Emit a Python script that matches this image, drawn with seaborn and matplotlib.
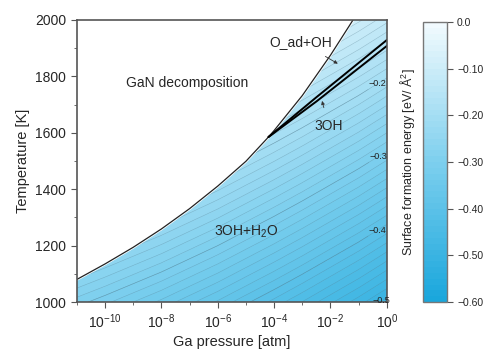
import matplotlib
matplotlib.use("Agg")
import matplotlib.pyplot as plt
import seaborn as sns
import numpy as np
from matplotlib.colors import LinearSegmentedColormap
from matplotlib.ticker import FixedLocator, FixedFormatter, MultipleLocator

# --- data ---
# log10 of Ga pressure [atm] grid and surface energy at T=1000 K / 2000 K
log_p_grid = [-11, -10, -9, -8, -7, -6, -5, -4, -3, -2, -1, 0]
t_grid = [1000, 2000]
energy_t1000 = [-0.294, -0.309, -0.325, -0.341, -0.359, -0.377,
                -0.397, -0.417, -0.438, -0.460, -0.482, -0.506]
energy_t2000 = [0.091, 0.076, 0.060, 0.044, 0.026, 0.008,
                -0.012, -0.032, -0.053, -0.075, -0.097, -0.121]

# GaN decomposition boundary
decomp_log_p = [-11, -10, -9, -8, -7, -6, -5, -4.2, -4, -3, -2, -1.2]
decomp_t = [1080, 1135, 1194, 1259, 1331, 1411, 1499, 1585, 1608, 1732, 1875, 2000]

# O_ad+OH / 3OH boundaries
upper_log_p = [-4.2, -2.5, 0]
upper_t = [1585, 1726, 1929]
lower_log_p = [-4.2, -2.5, 0]
lower_t = [1585, 1711, 1908]

label_levels = [-0.5, -0.4, -0.3, -0.2]
cbar_ticks = [0.0, -0.1, -0.2, -0.3, -0.4, -0.5, -0.6]
cbar_labels = ["0.0", "\u22120.10", "\u22120.20", "\u22120.30", "\u22120.40", "\u22120.50", "\u22120.60"]
x_major = [-10, -8, -6, -4, -2, 0]
x_labels = ["$10^{-10}$", "$10^{-8}$", "$10^{-6}$", "$10^{-4}$", "$10^{-2}$", "$10^{0}$"]

sns.set_style("ticks")
plt.rcParams["font.family"] = ["Liberation Sans", "DejaVu Sans"]
plt.rcParams["mathtext.fontset"] = "custom"
plt.rcParams["mathtext.rm"] = "Liberation Sans"
plt.rcParams["mathtext.it"] = "Liberation Sans:italic"

cmap = LinearSegmentedColormap.from_list("sfe", ["#18a6dc", "#7dcfee", "#f3fbfe"])
levels = np.linspace(-0.6, 0.0, 49)

fig = plt.figure(figsize=(4.86, 3.5), dpi=100)
ax = fig.add_axes([0.158, 0.137, 0.638, 0.806])
cax = fig.add_axes([0.870, 0.137, 0.049, 0.800])

X, Y = np.meshgrid(log_p_grid, t_grid)
Z = np.array([energy_t1000, energy_t2000])
cf = ax.contourf(X, Y, Z, levels=levels, cmap=cmap, vmin=-0.6, vmax=0.0)
ax.contour(X, Y, Z, levels=levels, colors="#4d7a8e", linewidths=0.4, alpha=0.4,
           linestyles="solid")

# labelled contours at the right edge
cl = ax.contour(X, Y, Z, levels=label_levels, colors="#4d7a8e", linewidths=0.4, alpha=0.4,
                linestyles="solid")
txts = ax.clabel(cl, inline=True, inline_spacing=2, fontsize=6.5, colors="#222222",
                 fmt=lambda v: f"{v:.1f}".replace("-", "\u2212"),
                 manual=[(-0.25, 1016), (-0.45, 1273), (-0.45, 1539), (-0.45, 1794)])
for t in txts:
    t.set_rotation(0)
    t.set_alpha(1)
    t.set_clip_on(False)
    t.set_zorder(6)

# white decomposition region
ax.fill_between(decomp_log_p, decomp_t, 2000, color="white", zorder=2)
ax.plot(decomp_log_p, decomp_t, color="#222222", lw=0.9, zorder=3)
ax.plot(upper_log_p, upper_t, color="black", lw=1.4, zorder=3)
ax.plot(lower_log_p, lower_t, color="black", lw=1.4, zorder=3)

ax.set_xlim(-11, 0)
ax.set_ylim(1000, 2000)
ax.xaxis.set_major_locator(FixedLocator(x_major))
ax.xaxis.set_major_formatter(FixedFormatter(x_labels))
ax.xaxis.set_minor_locator(FixedLocator([-11, -9, -7, -5, -3, -1]))
ax.yaxis.set_major_locator(MultipleLocator(200))
ax.yaxis.set_minor_locator(MultipleLocator(100))
ax.tick_params(which="both", direction="out", labelsize=10, color="#555555")
ax.tick_params(which="major", length=4)
ax.tick_params(which="minor", length=2)
for sp in ax.spines.values():
    sp.set_color("#555555")
    sp.set_linewidth(1.2)
    sp.set_zorder(5)
ax.set_xlabel("Ga pressure [atm]", fontsize=10.5, labelpad=3)
ax.set_ylabel("Temperature [K]", fontsize=10.5, labelpad=4)

ax.text(-7.1, 1777, "GaN decomposition", fontsize=10, ha="center", va="center", zorder=4)
ax.text(-4.97, 1248, "3OH+H$_2$O", fontsize=10, ha="center", va="center", zorder=4)
ax.annotate("O_ad+OH", xy=(-1.74, 1845), xytext=(-3.06, 1922), fontsize=10,
            ha="center", va="center", zorder=4,
            arrowprops=dict(arrowstyle="-|>", lw=0.6, color="#333333", mutation_scale=5,
                            shrinkA=6, shrinkB=0))
ax.annotate("3OH", xy=(-2.3, 1713), xytext=(-2.06, 1624), fontsize=10,
            ha="center", va="center", zorder=4,
            arrowprops=dict(arrowstyle="-|>", lw=0.6, color="#333333", mutation_scale=5,
                            shrinkA=6, shrinkB=0))

cb = fig.colorbar(cf, cax=cax, ticks=cbar_ticks)
cb.ax.set_yticklabels(cbar_labels)
cb.ax.tick_params(labelsize=7.5, length=4, color="#555555")
cb.outline.set_edgecolor("#777777")
cb.outline.set_linewidth(1.0)
cb.ax.yaxis.set_label_position("left")
cb.set_label("Surface formation energy [eV/ \u00c5$^2$]", fontsize=9, labelpad=4)

fig.savefig("out.png", dpi=100)
